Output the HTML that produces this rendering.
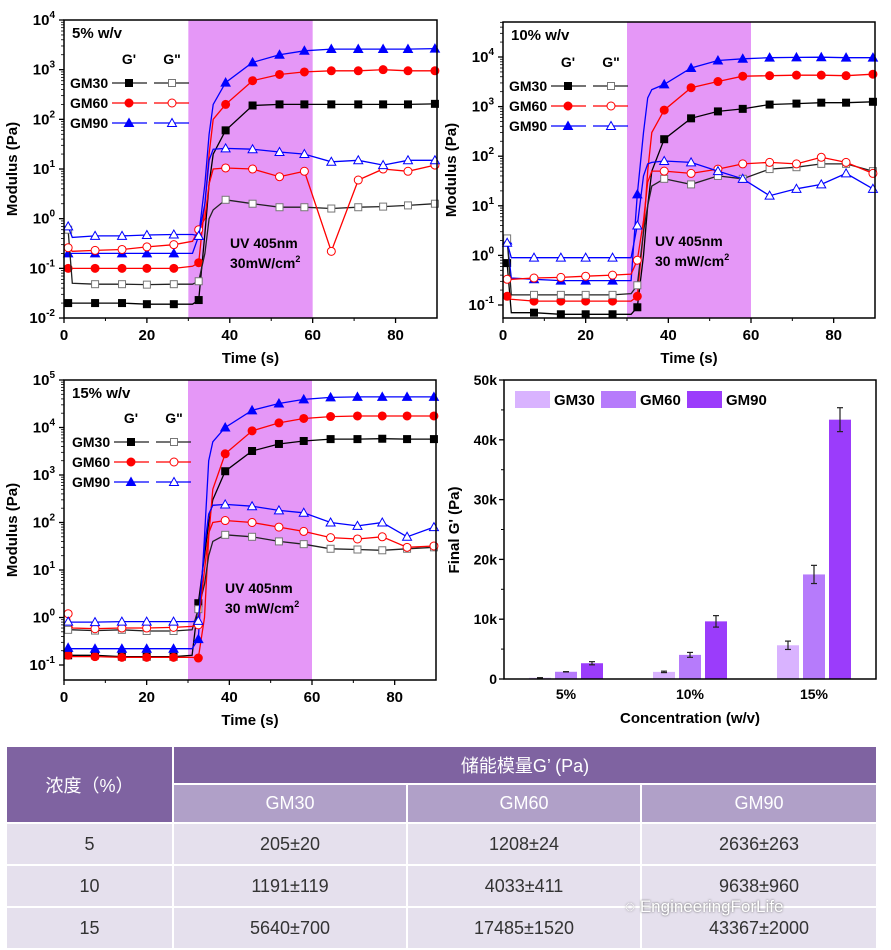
<!DOCTYPE html>
<html><head><meta charset="utf-8"><style>
body{margin:0;background:#fff;width:891px;height:950px;overflow:hidden;font-family:"Liberation Sans",Arial,sans-serif}
svg text{font-family:"Liberation Sans",Arial,sans-serif;font-weight:bold}
table{position:absolute;left:5px;top:745px;width:871px;border-collapse:collapse;table-layout:fixed;font-family:"Liberation Sans","Noto Sans CJK SC",sans-serif;font-size:18px;color:#333;text-align:center}
td{border:2px solid #fff;padding:0}
.h1{background:#7f63a1;color:#fff;height:36px}
.h2{background:#b0a0c8;color:#fff;height:37px}
.b td{background:#e5e0ed;height:40px}
</style></head><body>
<svg id="s" width="891" height="745" style="position:absolute;left:0;top:0"></svg>
<table>
<colgroup><col style="width:167px"><col style="width:234px"><col style="width:234px"><col style="width:236px"></colgroup>
<tr><td class="h1" rowspan="2">浓度（%）</td><td class="h1" colspan="3">储能模量G’ (Pa)</td></tr>
<tr><td class="h2">GM30</td><td class="h2">GM60</td><td class="h2">GM90</td></tr>
<tr class="b"><td>5</td><td>205±20</td><td>1208±24</td><td>2636±263</td></tr>
<tr class="b"><td>10</td><td>1191±119</td><td>4033±411</td><td>9638±960</td></tr>
<tr class="b"><td>15</td><td>5640±700</td><td>17485±1520</td><td>43367±2000</td></tr>
</table>
<div style="position:absolute;left:625px;top:897px;font-size:17px;color:#fff;text-shadow:0 0 2px #555">◌ EngineeringForLife</div>
<script>
const times=[1,2,7.5,14,20,26.5,31,32.5,34,35,36,39,45.5,52,58,64.5,71,77,83,89.5];
const markerIdx=[0,2,3,4,5,7,11,12,13,14,15,16,17,18,19];
// 5% w/v
const c1_gm30_gp=[0.02,0.02,0.02,0.02,0.019,0.019,0.019,0.023,0.5,5,20,60,190,200,200,200,200,200,200,205];
const c1_gm60_gp=[0.1,0.1,0.1,0.1,0.1,0.1,0.11,0.13,2,20,100,200,600,800,900,950,950,1000,950,950];
const c1_gm90_gp=[0.2,0.2,0.2,0.2,0.2,0.2,0.2,0.45,5,50,200,550,1400,2000,2400,2600,2600,2600,2600,2650];
const c1_gm30_gpp=[0.6,0.05,0.048,0.048,0.047,0.048,0.048,0.055,0.2,1,1.5,2.4,2,1.7,1.7,1.6,1.7,1.75,1.85,2];
const c1_gm60_gpp=[0.26,0.22,0.23,0.24,0.27,0.3,0.35,0.6,1,5,10,10.5,10,7,9,0.22,6,10,9,12];
const c1_gm90_gpp=[0.7,0.42,0.45,0.45,0.47,0.48,0.48,0.45,2,15,25,26,25,22,20,14,15,12,15,15];
// 10% w/v
const c2_gm30_gp=[0.7,0.07,0.07,0.065,0.065,0.065,0.065,0.09,1,10,50,220,580,800,900,1100,1150,1200,1200,1250];
const c2_gm60_gp=[0.15,0.13,0.12,0.12,0.12,0.12,0.12,0.15,3,50,300,850,2400,3200,4100,4200,4300,4300,4200,4500];
const c2_gm90_gp=[2,0.35,0.33,0.31,0.31,0.31,0.31,17,300,1500,2200,2800,6000,8500,9200,9700,9800,9900,9700,9700];
const c2_gm30_gpp=[2.2,0.16,0.16,0.16,0.16,0.16,0.17,0.25,3,10,25,35,27,40,35,55,60,70,70,50];
const c2_gm60_gpp=[0.33,0.33,0.35,0.36,0.38,0.4,0.42,0.8,5,30,50,50,45,55,70,75,70,95,75,45];
const c2_gm90_gpp=[1.8,0.9,0.9,0.9,0.9,0.9,0.9,4,40,70,75,80,75,50,35,16,22,27,45,22];
// 15% w/v
const c3_gm30_gp=[0.16,0.16,0.16,0.15,0.15,0.15,0.16,2,20,100,300,1200,3200,4500,5200,5700,5700,5800,5700,5700];
const c3_gm60_gp=[0.16,0.15,0.15,0.145,0.145,0.145,0.145,0.14,1,50,500,2800,8500,12500,15500,17000,17500,17500,17500,17500];
const c3_gm90_gp=[0.23,0.22,0.22,0.22,0.22,0.22,0.22,0.35,50,2000,5000,10000,23000,32000,39000,43000,44000,44000,44000,44000];
const c3_gm30_gpp=[0.55,0.55,0.53,0.55,0.52,0.52,0.55,1.5,5,20,40,55,50,40,35,28,27,26,28,30];
const c3_gm60_gpp=[1.2,0.6,0.58,0.6,0.6,0.62,0.65,0.7,10,60,100,110,100,80,65,48,45,50,30,32];
const c3_gm90_gpp=[0.82,0.8,0.8,0.82,0.82,0.82,0.82,0.85,30,150,230,240,220,180,160,100,85,100,50,80];
// bar chart
const barCategories=['5%','10%','15%'];
const barSeries=['GM30','GM60','GM90'];
const barGM30=[205,1191,5640];
const barGM60=[1208,4033,17485];
const barGM90=[2636,9638,43367];
const errGM30=[20,119,700];
const errGM60=[24,411,1520];
const errGM90=[263,960,2000];
const barTicks=[0,10000,20000,30000,40000,50000];
const barTickLabels=['0','10k','20k','30k','40k','50k'];
const timeTicks=[0,20,40,60,80];

const NS='http://www.w3.org/2000/svg';
const S=document.getElementById('s');
function el(tag,attrs,parent){const e=document.createElementNS(NS,tag);for(const k in attrs)e.setAttribute(k,attrs[k]);(parent||S).appendChild(e);return e;}
function txt(x,y,s,size,anchor,parent,extra){const t=el('text',Object.assign({x:x,y:y,'font-size':size,'text-anchor':anchor||'middle'},extra||{}),parent);t.textContent=s;return t;}
function marker(g,shape,x,y,color,filled){
  const f=filled?color:'#fff';let m;
  if(shape==='sq')m=el('rect',{x:x-3.5,y:y-3.5,width:7,height:7,fill:f,stroke:color,'stroke-width':1},g);
  else if(shape==='ci')m=el('circle',{cx:x,cy:y,r:4,fill:f,stroke:color,'stroke-width':1},g);
  else m=el('polygon',{points:`${x},${y-4.5} ${x+4.5},${y+3.5} ${x-4.5},${y+3.5}`,fill:f,stroke:color,'stroke-width':1},g);
  return m;
}
function logChart(cfg){
  const g=el('g',{});
  
  
  const X=t=>cfg.x0+(t/90)*(cfg.x1-cfg.x0);
  const Y=v=>cfg.yRef-(Math.log10(v)-cfg.refLog)*cfg.dec;
  const sh=el('rect',{x:X(30),y:cfg.yt,width:X(60)-X(30),height:cfg.yb-cfg.yt,fill:'#e597f7'},g);
  
  
  const cols=['#000','#f00','#00f'],shapes=['sq','ci','tr'];
  cfg.series.forEach((s,i)=>{
    const d=s.map((v,k)=>(k?'L':'M')+X(times[k]).toFixed(1)+','+Y(v).toFixed(1)).join('');
    const p=el('path',{d:d,fill:'none',stroke:i<3?cols[i]:(i===3?'#222':cols[i%3]),'stroke-width':1.3},g);
    
    
    markerIdx.forEach(k=>{const m=marker(g,shapes[i%3],X(times[k]),Y(s[k]),i===3?'#777':cols[i%3],i<3);
      
      });
  });
  const fr=el('rect',{x:cfg.x0,y:cfg.yt,width:cfg.x1-cfg.x0,height:cfg.yb-cfg.yt,fill:'none',stroke:'#000','stroke-width':1.5},g);
  
  
  timeTicks.forEach(t=>{el('line',{x1:X(t),x2:X(t),y1:cfg.yb,y2:cfg.yb+5,stroke:'#000','stroke-width':1.3},g);
    const l=txt(X(t),cfg.yb+22,String(t),15,'middle',g);
    
    
    if(t<80)el('line',{x1:X(t+10),x2:X(t+10),y1:cfg.yb,y2:cfg.yb+3,stroke:'#000'},g);});
  for(let e=cfg.eMin;e<=cfg.eMax;e++){
    const y=Y(Math.pow(10,e));
    el('line',{x1:cfg.x0-5,x2:cfg.x0,y1:y,y2:y,stroke:'#000','stroke-width':1.3},g);
    for(let m=2;m<10;m++){const ym=Y(m*Math.pow(10,e));if(ym>cfg.yt&&ym<cfg.yb)el('line',{x1:cfg.x0-3,x2:cfg.x0,y1:ym,y2:ym,stroke:'#000','stroke-width':0.8},g);}
    const t=txt(cfg.x0-9,y+5,'10',15,'end',g);
    const sp=el('tspan',{dy:-7,'font-size':10},t);sp.textContent=String(e);
    
    
  }
  const yt=txt(0,0,'Modulus (Pa)',15,'middle',g,{transform:`translate(${cfg.x0-47},${(cfg.yt+cfg.yb)/2}) rotate(-90)`});
  
  
  const xt=txt((cfg.x0+cfg.x1)/2,cfg.yb+45,'Time (s)',15,'middle',g);
  
  
  const ti=txt(cfg.x0+8,cfg.yt+18,cfg.title,15,'start',g);
  
  
  const u1=txt(cfg.uvx,cfg.uvy,cfg.uv1,14,'start',g);
  
  
  const u2=txt(cfg.uvx,cfg.uvy+20,cfg.uv2,14,'start',g);
  const sp2=el('tspan',{dy:-6,'font-size':9},u2);sp2.textContent='2';
  
  
  const lx=cfg.lx,ly=cfg.ly;
  txt(lx+59,ly-19,"G'",14,'middle',g);txt(lx+102,ly-19,'G"',14,'middle',g);
  ['GM30','GM60','GM90'].forEach((n,i)=>{
    const y=ly+i*20;
    const lt=txt(lx,y+5,n,14,'start',g);
    
    
    el('line',{x1:lx+42,x2:lx+77,y1:y,y2:y,stroke:i?cols[i]:'#222','stroke-width':1.3},g);
    el('line',{x1:lx+84,x2:lx+119,y1:y,y2:y,stroke:i?cols[i]:'#222','stroke-width':1.3},g);
    marker(g,shapes[i],lx+59,y,cols[i],true);marker(g,shapes[i],lx+102,y,i?cols[i]:'#777',false);
  });
}
function ser(a,b,c,d,e,f){return [a,b,c,d,e,f];}
const nm=['gm30-gprime','gm60-gprime','gm90-gprime','gm30-gdoubleprime','gm60-gdoubleprime','gm90-gdoubleprime'];
logChart({name:'chart-5pct',x0:64,x1:437,yt:20,yb:318,yRef:20,refLog:4,dec:49.67,eMin:-2,eMax:4,title:'5% w/v',uvx:230,uvy:248,uv1:'UV 405nm',uv2:'30mW/cm',lx:70,ly:83,names:nm,
  series:ser(c1_gm30_gp,c1_gm60_gp,c1_gm90_gp,c1_gm30_gpp,c1_gm60_gpp,c1_gm90_gpp)});
logChart({name:'chart-10pct',x0:503,x1:875,yt:22,yb:318,yRef:305,refLog:-1,dec:49.6,eMin:-1,eMax:4,title:'10% w/v',uvx:655,uvy:246,uv1:'UV  405nm',uv2:'30 mW/cm',lx:509,ly:86,names:nm,
  series:ser(c2_gm30_gp,c2_gm60_gp,c2_gm90_gp,c2_gm30_gpp,c2_gm60_gpp,c2_gm90_gpp)});
logChart({name:'chart-15pct',x0:64,x1:436,yt:380,yb:680,yRef:665,refLog:-1,dec:47.5,eMin:-1,eMax:5,title:'15% w/v',uvx:225,uvy:593,uv1:'UV  405nm',uv2:'30 mW/cm',lx:72,ly:442,names:nm,
  series:ser(c3_gm30_gp,c3_gm60_gp,c3_gm90_gp,c3_gm30_gpp,c3_gm60_gpp,c3_gm90_gpp)});

(function(){
  const g=el('g',{});
  
  
  const x0=504,x1=876,yt=380,yb=679;
  const Y=v=>yb-(v/50000)*(yb-yt);
  const groupX=i=>566+i*124;
  const colors=['#d9b3ff','#b67bfb','#9b3cfb'];
  const vals=[barGM30,barGM60,barGM90],errs=[errGM30,errGM60,errGM90];
  barCategories.forEach((c,i)=>{
    vals.forEach((arr,s)=>{
      const cx=groupX(i)+(s-1)*26;
      const r=el('rect',{x:cx-11,y:Y(arr[i]),width:22,height:yb-Y(arr[i]),fill:colors[s]},g);
      
      
      const e=errs[s][i],yt1=Y(arr[i]+e),yb1=Y(arr[i]-e);
      el('line',{x1:cx,x2:cx,y1:yt1,y2:yb1,stroke:'#222','stroke-width':1.2},g);
      el('line',{x1:cx-3,x2:cx+3,y1:yt1,y2:yt1,stroke:'#222','stroke-width':1.2},g);
      el('line',{x1:cx-3,x2:cx+3,y1:yb1,y2:yb1,stroke:'#222','stroke-width':1.2},g);
    });
    const l=txt(groupX(i),yb+20,c,14,'middle',g);
    
    
  });
  el('rect',{x:x0,y:yt,width:x1-x0,height:yb-yt,fill:'none',stroke:'#000','stroke-width':1.5},g);
  barTicks.forEach((v,i)=>{
    el('line',{x1:x0-5,x2:x0,y1:Y(v),y2:Y(v),stroke:'#000','stroke-width':1.3},g);
    if(i<barTicks.length-1)el('line',{x1:x0-3,x2:x0,y1:Y(v+5000),y2:Y(v+5000),stroke:'#000'},g);
    const t=txt(x0-7,Y(v)+5,barTickLabels[i],14,'end',g);
    
    
  });
  const yt2=txt(0,0,"Final G' (Pa)",15,'middle',g,{transform:`translate(459,530) rotate(-90)`});
  
  
  const xt=txt(690,723,'Concentration (w/v)',15,'middle',g);
  
  
  barSeries.forEach((n,s)=>{
    const bx=515+s*86;
    const b=el('rect',{x:bx,y:391,width:35,height:17,fill:colors[s]},g);
    
    
    const t=txt(bx+39,405,n,15,'start',g);
    
    
  });
})();
</script>
</body></html>
